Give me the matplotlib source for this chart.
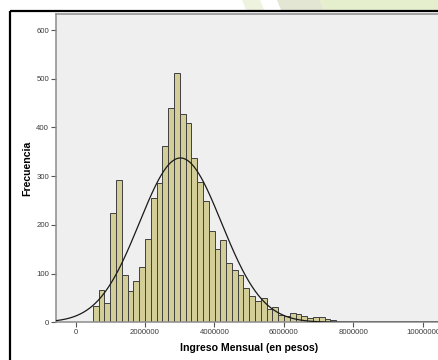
import numpy as np
import matplotlib
matplotlib.use("Agg")
import matplotlib.pyplot as plt
from matplotlib.lines import Line2D
from matplotlib.patches import Polygon

# ---- data ----
bin_start = 333333.33          # left edge of first bin (pesos)
bin_width = 166666.67          # bin width (pesos)
counts = [1, 33, 66, 39, 224, 292, 97, 64, 85, 113, 172, 256, 285, 362, 441, 511,
          428, 409, 337, 289, 250, 188, 150, 170, 121, 107, 98, 71, 55, 44, 49, 27,
          32, 16, 13, 20, 17, 12, 9, 10, 11, 6, 4, 1, 1, 1, 0, 1]
curve_mean = 3.02e6
curve_sd = 1.18e6
x_ticks = [0, 2000000, 4000000, 6000000, 8000000, 10000000]
x_tick_labels = ["0", "2000000", "4000000", "6000000", "8000000", "10000000"]
y_ticks = [0, 100, 200, 300, 400, 500, 600]
x_label = "Ingreso Mensual (en pesos)"
y_label = "Frecuencia"

W, H = 438, 360
fig = plt.figure(figsize=(W / 100, H / 100), dpi=100)
fig.patch.set_facecolor("white")

# decorative background above the frame
def fpoly(pts, color):
    fig.patches.append(Polygon([(x / W, 1 - y / H) for x, y in pts], closed=True,
                               transform=fig.transFigure, facecolor=color,
                               edgecolor="none", zorder=0))
fpoly([(242, 0), (260, 0), (264, 10), (246, 10)], "#edf3de")
fpoly([(277, 0), (320, 0), (324, 10), (281, 10)], "#e2e6d3")
fpoly([(320, 0), (438, 0), (438, 10), (324, 10)], "#e5efcd")

# outer black frame (left and top)
fig.add_artist(Line2D([10 / W, 10 / W], [0, 1 - 10.5 / H], transform=fig.transFigure,
                      color="black", lw=1.6, solid_capstyle="butt"))
fig.add_artist(Line2D([9.5 / W, 1], [1 - 10.5 / H, 1 - 10.5 / H], transform=fig.transFigure,
                      color="black", lw=1.6, solid_capstyle="butt"))

# axes: plot area from x=56 to ~442 px, y=14 to 322.3 px
left_px, right_px, top_px, bot_px = 56, 442, 14, 322.3
ax = fig.add_axes([left_px / W, 1 - bot_px / H, (right_px - left_px) / W, (bot_px - top_px) / H])
ax.set_facecolor("#efefef")

counts_arr = np.array(counts, dtype=float)
edges = bin_start + bin_width * np.arange(len(counts))
mask = counts_arr > 0
ax.bar(edges[mask], counts_arr[mask], width=bin_width, align="edge",
       color="#d3ce97", edgecolor="#404040", linewidth=0.7, zorder=2)

# x range (pesos) such that 0 sits at 75.5 px and 1M spans 34.75 px
px_per_peso = 34.75 / 1e6
xmin = (left_px - 75.5) / px_per_peso
xmax = (right_px - 75.5) / px_per_peso
ax.set_xlim(xmin, xmax)
ax.set_ylim(0, 633)

xs = np.linspace(xmin, xmax, 600)
N = counts_arr.sum()
ys = N * bin_width / (curve_sd * np.sqrt(2 * np.pi)) * np.exp(-0.5 * ((xs - curve_mean) / curve_sd) ** 2)
ax.plot(xs, ys, color="#1a1a1a", lw=0.9, zorder=3)

for s in ax.spines.values():
    s.set_color("#8c8c8c")
    s.set_linewidth(1.1)

ax.set_xticks(x_ticks)
ax.set_xticklabels(x_tick_labels)
ax.set_yticks(y_ticks)
ax.tick_params(axis="both", direction="out", length=3.8, width=0.8, color="#555555",
               labelsize=5.6, labelcolor="#3c3c3c", pad=1.2)
for lab in ax.get_xticklabels() + ax.get_yticklabels():
    lab.set_family("Liberation Sans")

ax.set_xlabel(x_label, fontsize=7.6, fontweight="bold", family="Liberation Sans", labelpad=5)
ax.set_ylabel(y_label, fontsize=7.6, fontweight="bold", family="Liberation Sans", labelpad=2.5)

fig.savefig("out.png", dpi=100)
